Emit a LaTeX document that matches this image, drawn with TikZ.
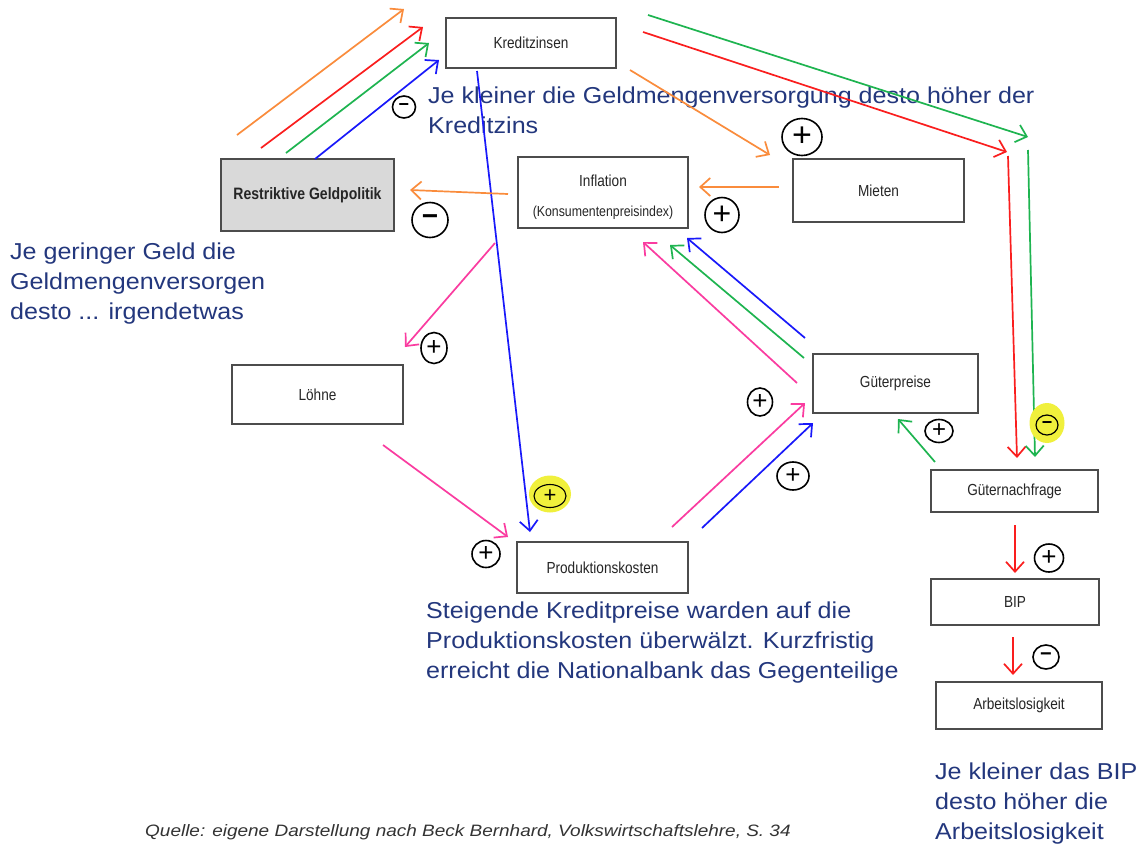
\documentclass[tikz,border=0pt]{standalone}
\usepackage{fontspec}
\setmainfont{Liberation Sans}
\newfontfamily\boxfont[FakeStretch=0.85]{Liberation Sans}
\newfontfamily\bluefont[FakeStretch=1.09]{Liberation Sans}
\newfontfamily\srcfont[FakeStretch=1.15]{Liberation Sans}
\usetikzlibrary{arrows.meta,shapes.geometric}
\definecolor{txtblue}{RGB}{35,55,125}
\definecolor{aorange}{RGB}{250,140,60}
\definecolor{ared}{RGB}{250,30,30}
\definecolor{agreen}{RGB}{30,180,80}
\definecolor{ablue}{RGB}{25,25,250}
\definecolor{apink}{RGB}{250,60,160}
\definecolor{boxgray}{RGB}{217,217,217}
\definecolor{hilite}{RGB}{240,240,60}
\tikzset{
  box/.style={draw=black!70, line width=1.1pt, fill=white, rectangle, inner sep=0pt,
    font=\boxfont\fontsize{16}{18}\selectfont, text=black!85},
  arr/.style={line width=1.7pt, -{Straight Barb[length=10pt,width=18pt,line width=1.7pt]}},
  sign/.style={draw=black, line width=1.6pt, ellipse, inner sep=0pt,
    font=\fontsize{26}{26}\selectfont},
  minus/.style={sign, font=\bfseries\fontsize{24}{24}\selectfont},
  hl/.style={fill=hilite, draw=none, ellipse, inner sep=0pt},
  bluetext/.style={text=txtblue, font=\bluefont\fontsize{23}{30}\selectfont,
    align=left, anchor=north west, inner sep=0pt}
}
\begin{document}
\begin{tikzpicture}[x=1pt,y=-1pt]
\useasboundingbox (0,0) rectangle (1141,844);
\fill[white] (0,0) rectangle (1141,844);

% boxes
\node[box, minimum width=170, minimum height=50] (kz) at (531,43) {\raisebox{-4pt}{Kreditzinsen}};
\node[box, minimum width=173, minimum height=72, fill=boxgray, font=\boxfont\fontsize{16.5}{18}\selectfont\bfseries] (rg) at (307.5,195) {Restriktive Geldpolitik};
\node[box, minimum width=170, minimum height=71] (inf) at (603,192.5) {};
\node[align=center, inner sep=0pt, font=\boxfont\fontsize{16}{30}\selectfont, text=black!85] (inft) at (603,197) {Inflation\\{\fontsize{14.5}{14}\selectfont(Konsumentenpreisindex)}};
\node[box, minimum width=171, minimum height=63] (mi) at (878.5,190.5) {Mieten};
\node[box, minimum width=171, minimum height=59] (lo) at (317.5,394.5) {Löhne};
\node[box, minimum width=171, minimum height=51] (pk) at (602.5,567.5) {\raisebox{-3pt}{Produktionskosten}};
\node[box, minimum width=165, minimum height=59] (gp) at (895.5,383.5) {Güterpreise};
\node[box, minimum width=167, minimum height=42] (gn) at (1014.5,491) {Güternachfrage};
\node[box, minimum width=168, minimum height=46] (bip) at (1015,602) {BIP};
\node[box, minimum width=166, minimum height=47] (al) at (1019,705.5) {Arbeitslosigkeit};

% blue explanatory texts
\node[bluetext] (t1) at (428,87) {Je kleiner die Geldmengenversorgung desto höher der\\Kreditzins};
\node[bluetext] (t2) at (10,243) {Je geringer Geld die\\Geldmengenversorgen\\desto ... irgendetwas};
\node[bluetext] (t3) at (426,602) {Steigende Kreditpreise warden auf die\\Produktionskosten überwälzt. Kurzfristig\\erreicht die Nationalbank das Gegenteilige};
\node[bluetext] (t4) at (935,763) {Je kleiner das BIP\\desto höher die\\Arbeitslosigkeit};
\node[anchor=base west, inner sep=0pt, font=\srcfont\itshape\fontsize{16.5}{18}\selectfont, text=black!80] (src) at (145,836) {Quelle: eigene Darstellung nach Beck Bernhard, Volkswirtschaftslehre, S. 34};

% arrow end points
\coordinate (o1a) at (237,135); \coordinate (o1b) at (404,9);
\coordinate (r1a) at (261,148); \coordinate (r1b) at (423,27);
\coordinate (g1a) at (286,153); \coordinate (g1b) at (429,43);
\coordinate (b1a) at (315,159); \coordinate (b1b) at (439,60);
\coordinate (b2a) at (477,71);  \coordinate (b2b) at (530,532);
\coordinate (o2a) at (508,194); \coordinate (o2b) at (410,190);
\coordinate (o3a) at (630,70);  \coordinate (o3b) at (770,155);
\coordinate (o4a) at (779,187); \coordinate (o4b) at (699,187);
\coordinate (r2a) at (643,32);  \coordinate (r2b) at (1007,152);
\coordinate (r3a) at (1008,156);\coordinate (r3b) at (1017,458);
\coordinate (g2a) at (648,15);  \coordinate (g2b) at (1028,137);
\coordinate (g3a) at (1028,150);\coordinate (g3b) at (1035,457);
\coordinate (p1a) at (495,243); \coordinate (p1b) at (405,347);
\coordinate (p2a) at (383,445); \coordinate (p2b) at (508,537);
\coordinate (p3a) at (672,527); \coordinate (p3b) at (805,403);
\coordinate (b3a) at (702,528); \coordinate (b3b) at (813,423);
\coordinate (p4a) at (797,383); \coordinate (p4b) at (643,242);
\coordinate (g4a) at (804,358); \coordinate (g4b) at (670,245);
\coordinate (b4a) at (805,338); \coordinate (b4b) at (687,238);
\coordinate (g5a) at (935,462); \coordinate (g5b) at (898,419);
\coordinate (r4a) at (1015,525);\coordinate (r4b) at (1015,573);
\coordinate (r5a) at (1013,637);\coordinate (r5b) at (1013,675);

% arrows
\draw[arr, aorange] (o1a) -- (o1b);
\draw[arr, ared] (r1a) -- (r1b);
\draw[arr, agreen] (g1a) -- (g1b);
\draw[arr, ablue] (b1a) -- (b1b);
\draw[arr, ablue] (b2a) -- (b2b);
\draw[arr, aorange] (o2a) -- (o2b);
\draw[arr, aorange] (o3a) -- (o3b);
\draw[arr, aorange] (o4a) -- (o4b);
\draw[arr, ared] (r2a) -- (r2b);
\draw[arr, ared] (r3a) -- (r3b);
\draw[arr, agreen] (g2a) -- (g2b);
\draw[arr, agreen] (g3a) -- (g3b);
\draw[arr, apink] (p1a) -- (p1b);
\draw[arr, apink] (p2a) -- (p2b);
\draw[arr, apink] (p3a) -- (p3b);
\draw[arr, ablue] (b3a) -- (b3b);
\draw[arr, apink] (p4a) -- (p4b);
\draw[arr, agreen] (g4a) -- (g4b);
\draw[arr, ablue] (b4a) -- (b4b);
\draw[arr, agreen] (g5a) -- (g5b);
\draw[arr, ared] (r4a) -- (r4b);
\draw[arr, ared] (r5a) -- (r5b);

% highlights
\node[hl, minimum width=42, minimum height=37] (h1) at (550,494) {};
\node[hl, minimum width=35, minimum height=40] (h2) at (1047,423) {};

% hand-drawn signs
\node[minus, minimum width=23, minimum height=22, font=\bfseries\fontsize{18}{18}\selectfont] (s1) at (404,107) {−};
\node[minus, minimum width=36, minimum height=35, font=\bfseries\fontsize{28}{28}\selectfont] (s2) at (430,220) {−};
\node[sign, minimum width=40, minimum height=37, font=\fontsize{34}{34}\selectfont] (s3) at (802,137) {+};
\node[sign, minimum width=34, minimum height=35, font=\fontsize{32}{32}\selectfont] (s4) at (722,215) {+};
\node[sign, minimum width=26, minimum height=31] (s5) at (434,348) {+};
\node[sign, minimum width=32, minimum height=23, line width=1.1pt, font=\fontsize{22}{22}\selectfont] (s6) at (550,496) {+};
\node[sign, minimum width=28, minimum height=27] (s7) at (486,554) {+};
\node[sign, minimum width=25, minimum height=28] (s8) at (760,402) {+};
\node[sign, minimum width=32, minimum height=28] (s9) at (793,476) {+};
\node[sign, minimum width=28, minimum height=23, font=\fontsize{24}{24}\selectfont] (s10) at (939,431) {+};
\node[minus, minimum width=22, minimum height=20, line width=1.2pt, font=\bfseries\fontsize{18}{18}\selectfont] (s11) at (1047,425) {−};
\node[sign, minimum width=29, minimum height=28] (s12) at (1049,558) {+};
\node[minus, minimum width=26, minimum height=24, font=\bfseries\fontsize{20}{20}\selectfont] (s13) at (1046,657) {−};
\end{tikzpicture}
\end{document}
